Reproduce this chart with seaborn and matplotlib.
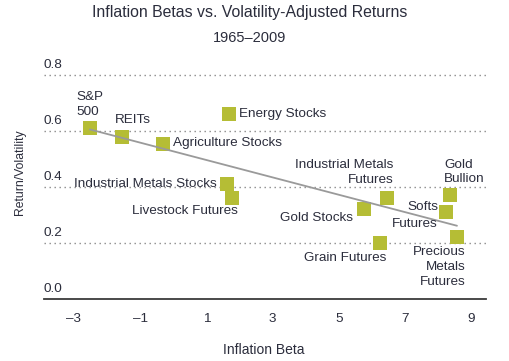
import matplotlib
matplotlib.use("Agg")
import matplotlib.pyplot as plt
import matplotlib.transforms as mtransforms
import pandas as pd
import seaborn as sns

# values
activos = ["S&P\n500", "REITs", "Agriculture Stocks", "Energy Stocks",
           "Industrial Metals Stocks", "Livestock Futures",
           "Industrial Metals\nFutures", "Gold Stocks", "Grain Futures",
           "Gold\nBullion", "Softs\nFutures", "Precious\nMetals\nFutures"]
inflation_beta = [-2.52, -1.54, -0.30, 1.69, 1.63, 1.78, 6.45, 5.76, 6.24, 8.36, 8.24, 8.57]
return_vol = [0.61, 0.58, 0.553, 0.66, 0.41, 0.36, 0.36, 0.32, 0.20, 0.37, 0.31, 0.22]

x_ticks = [-3, -1, 1, 3, 5, 7, 9]
y_ticks = [0.0, 0.2, 0.4, 0.6, 0.8]

# label placement: (dx px, dy px, ha, va)
posicion_etiquetas = {
    "S&P\n500": (-13, 10, "left", "bottom"),
    "REITs": (-7, 11, "left", "bottom"),
    "Agriculture Stocks": (10, 1, "left", "center"),
    "Energy Stocks": (10, 0, "left", "center"),
    "Industrial Metals Stocks": (-10, 0, "right", "center"),
    "Livestock Futures": (6, -13, "right", "center"),
    "Industrial Metals\nFutures": (7, 12, "right", "bottom"),
    "Gold Stocks": (-11, -9, "right", "center"),
    "Grain Futures": (7, -15, "right", "center"),
    "Gold\nBullion": (-6, 10, "left", "bottom"),
    "Softs\nFutures": (-8, -3, "right", "center"),
    "Precious\nMetals\nFutures": (9, -9, "right", "top"),
}

TEXTO = "#2b2d3c"
VERDE = "#b5bd35"
FS = 9.7

sns.set_theme(style="white", rc={"axes.facecolor": "white", "figure.facecolor": "white"})
plt.rcParams["font.family"] = ["Liberation Sans", "DejaVu Sans"]
plt.rcParams["text.color"] = TEXTO

df = pd.DataFrame({"Activo": activos, "Beta": inflation_beta, "RV": return_vol})

fig = plt.figure(figsize=(5.09, 3.61), dpi=100)
ax = fig.add_axes([44 / 509, 1 - 299 / 361, 442 / 509, 229.6 / 361])

# linea de tendencia (ajuste lineal)
sns.regplot(data=df, x="Beta", y="RV", scatter=False, ci=None, truncate=True,
            line_kws={"color": "#9a9a9a", "lw": 1.3, "zorder": 3}, ax=ax)

sns.scatterplot(data=df, x="Beta", y="RV", marker="s", s=95, color=VERDE,
                linewidth=0, zorder=2, ax=ax)

for _, fila in df.iterrows():
    dx, dy, ha, va = posicion_etiquetas[fila["Activo"]]
    ax.annotate(fila["Activo"], (fila["Beta"], fila["RV"]), xytext=(dx, dy),
                textcoords="offset pixels", ha=ha, va=va, multialignment=ha,
                fontsize=FS, color=TEXTO,
                linespacing=1.55 if "Softs" in fila["Activo"] else 1.3)

ax.set_xlim(-3.906, 9.447)
ax.set_ylim(0, 0.82)
ax.set_xticks(x_ticks)
ax.set_xticklabels(["\u2013" + str(-t) if t < 0 else str(t) for t in x_ticks],
                   fontsize=FS, color=TEXTO)
ax.tick_params(axis="x", length=0, pad=10)
ax.set_yticks(y_ticks)
ax.set_yticklabels([])
ax.tick_params(axis="y", length=0)

for v in y_ticks[1:]:
    ax.axhline(v, color="#8a8a8a", lw=1.0, ls=(0, (1, 2.6)), zorder=1)

trans = mtransforms.blended_transform_factory(ax.transAxes, ax.transData)
for v in y_ticks:
    ax.annotate(f"{v:.1f}", (0, v), xycoords=trans, xytext=(0, 4),
                textcoords="offset pixels", ha="left", va="bottom",
                fontsize=FS, color=TEXTO, annotation_clip=False)

for lado in ["top", "right", "left"]:
    ax.spines[lado].set_visible(False)
ax.spines["bottom"].set_color("#3a3a3a")
ax.spines["bottom"].set_linewidth(1.3)
ax.set_xlabel("")
ax.set_ylabel("")

fig.text(250 / 509, 1 - 13 / 361, "Inflation Betas vs. Volatility-Adjusted Returns",
         ha="center", va="center", fontsize=11.4, color=TEXTO)
fig.text(250 / 509, 1 - 38.5 / 361, "1965\u20132009", ha="center", va="center",
         fontsize=10.5, color=TEXTO)
fig.text(264 / 509, 1 - 350 / 361, "Inflation Beta", ha="center", va="center",
         fontsize=10, color=TEXTO)
fig.text(20 / 509, 1 - 172 / 361, "Return/Volatility", ha="center", va="center",
         rotation=90, fontsize=8.8, color=TEXTO)

fig.savefig("out.png", dpi=100)
